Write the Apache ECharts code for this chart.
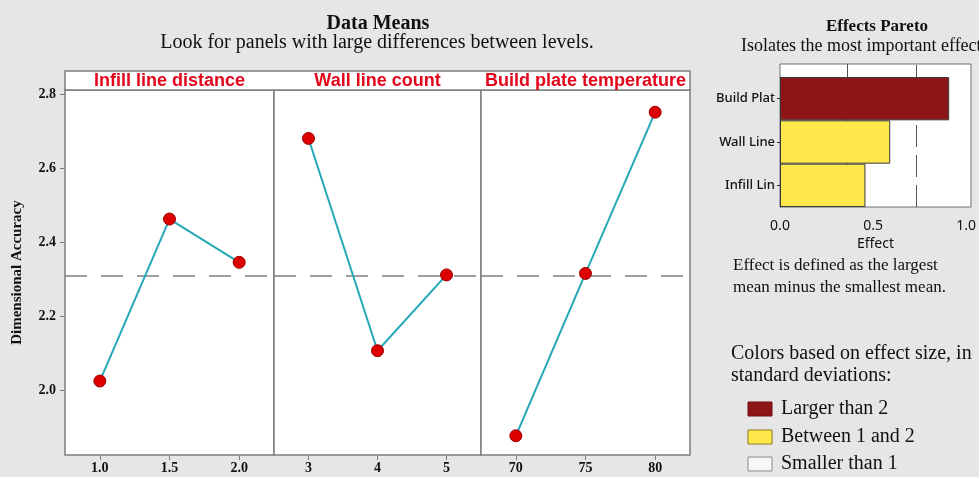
<!DOCTYPE html>
<html>
<head>
<meta charset="utf-8">
<script src="https://cdn.jsdelivr.net/npm/echarts@6/dist/echarts.min.js"></script>
<style>
html,body{margin:0;padding:0;background:#e6e6e6;}
#chart{width:979px;height:477px;}
</style>
</head>
<body>
<div id="chart"></div>
<script>
// ---- data ----
const FACTORS = ['Infill line distance', 'Wall line count', 'Build plate temperature'];
const LEVELS_INFILL = ['1.0', '1.5', '2.0'];
const LEVELS_WALL = ['3', '4', '5'];
const LEVELS_TEMP = ['70', '75', '80'];
const MEANS_INFILL = [2.024, 2.462, 2.345];
const MEANS_WALL = [2.680, 2.106, 2.311];
const MEANS_TEMP = [1.876, 2.315, 2.751];
const GRAND_MEAN = 2.313;
const Y_TICKS = [2.0, 2.2, 2.4, 2.6, 2.8];
const PARETO_CATS = ['Infill Lin', 'Wall Line', 'Build Plat'];
const PARETO_EFFECTS = [0.445, 0.574, 0.881];
const PARETO_TICKS = [0, 0.5, 1.0];
const SD_LINES = [0.363, 0.73]; // 1 SD (solid), 2 SD (dashed)
const LEGEND_LABELS = ['Larger than 2', 'Between 1 and 2', 'Smaller than 1'];

// ---- styles ----
const SERIF = '"Liberation Serif", "Times New Roman", serif';
const SANS = '"Liberation Sans", Arial, sans-serif';
const UISANS = '"Noto Sans", "Open Sans", sans-serif';
const FRAME = '#7d7d7d';
const DARKRED = '#8e1515';
const YELLOW = '#ffe94a';
const LEVELS = [LEVELS_INFILL, LEVELS_WALL, LEVELS_TEMP];
const MEANS = [MEANS_INFILL, MEANS_WALL, MEANS_TEMP];
const PANEL_LEFT = [65, 274, 481];
const PANEL_W = [209, 207, 209];
const Y_MIN = 1.824, Y_MAX = 2.811;

const chart = echarts.init(document.getElementById('chart'), null, {renderer: 'canvas'});

const grids = [], xAxes = [], yAxes = [], series = [];
for (let i = 0; i < 3; i++) {
  grids.push({left: PANEL_LEFT[i], top: 90, width: PANEL_W[i], height: 365, show: true,
    backgroundColor: '#ffffff', borderColor: FRAME, borderWidth: 1.5});
  xAxes.push({type: 'category', gridIndex: i, data: LEVELS[i], boundaryGap: true,
    axisLine: {show: false},
    axisTick: {show: true, alignWithLabel: true, length: 5, lineStyle: {color: FRAME}},
    axisLabel: {margin: 6, fontFamily: SERIF, fontWeight: 'bold', fontSize: 14, color: '#111'},
    splitLine: {show: false}});
  yAxes.push({type: 'value', gridIndex: i, min: Y_MIN, max: Y_MAX,
    name: i === 0 ? 'Dimensional Accuracy' : '', nameLocation: 'middle', nameGap: 40,
    nameTextStyle: {fontFamily: SERIF, fontWeight: 'bold', fontSize: 15, color: '#111'},
    axisLine: {show: false},
    axisTick: {show: i === 0, length: 5, customValues: Y_TICKS, lineStyle: {color: FRAME}},
    axisLabel: {show: i === 0, customValues: Y_TICKS, margin: 9, fontFamily: SERIF, fontWeight: 'bold',
      fontSize: 14, color: '#111', formatter: v => v.toFixed(1)},
    splitLine: {show: false}});
  series.push({type: 'line', xAxisIndex: i, yAxisIndex: i, data: MEANS[i],
    symbol: 'circle', symbolSize: 12,
    itemStyle: {color: '#dc0000', borderColor: '#9a0000', borderWidth: 1},
    lineStyle: {color: '#25a8b8', width: 2},
    z: 3,
    markLine: {silent: true, symbol: 'none', label: {show: false}, z: 2,
      lineStyle: {color: '#7f7f7f', width: 1.5, type: [22, 14]},
      data: [{yAxis: GRAND_MEAN}]}});
}

// Pareto background grid (frame + SD reference lines)
grids.push({left: 780, top: 64, width: 197, height: 143, show: true,
  backgroundColor: '#ffffff', borderColor: '#6f6f6f', borderWidth: 1});
xAxes.push({type: 'value', gridIndex: 3, min: 0, max: 1.026,
  name: 'Effect', nameLocation: 'middle', nameGap: 30,
  nameTextStyle: {fontFamily: UISANS, fontSize: 14, color: '#111'},
  axisLine: {show: false}, axisTick: {show: false},
  axisLabel: {customValues: PARETO_TICKS, margin: 12, fontFamily: UISANS, fontSize: 14, color: '#111',
    formatter: v => v.toFixed(1)},
  splitLine: {show: false}});
yAxes.push({type: 'value', gridIndex: 3, min: 0, max: 1, show: false});
series.push({type: 'line', xAxisIndex: 3, yAxisIndex: 3, data: [[0, 0], [1, 1]],
  symbol: 'none', lineStyle: {opacity: 0}, silent: true, z: 1,
  markLine: {silent: true, symbol: 'none', label: {show: false}, z: 1,
    data: [
      {xAxis: SD_LINES[0], lineStyle: {color: '#555', width: 1, type: 'solid'}},
      {xAxis: SD_LINES[1], lineStyle: {color: '#555', width: 1, type: [22, 8]}}
    ]}});

// Pareto bars grid
grids.push({left: 780, top: 77, width: 197, height: 130, show: false});
xAxes.push({type: 'value', gridIndex: 4, min: 0, max: 1.026, show: false});
yAxes.push({type: 'category', gridIndex: 4, data: PARETO_CATS,
  axisLine: {show: true, lineStyle: {color: '#2a2a5a'}},
  axisTick: {show: true, alignWithLabel: true, length: 3, lineStyle: {color: '#333'}},
  axisLabel: {margin: 5, fontFamily: UISANS, fontSize: 13, fontWeight: 500, color: '#111'}});
series.push({type: 'bar', xAxisIndex: 4, yAxisIndex: 4, barCategoryGap: '0%', z: 3,
  data: PARETO_EFFECTS.map(v => ({value: v,
    itemStyle: {color: v > SD_LINES[1] ? DARKRED : (v > SD_LINES[0] ? YELLOW : '#f4f4f4'),
      borderColor: '#3a3a3a', borderWidth: 1}}))});

// texts and legend
const txt = (text, x, y, font, align, fill) => ({type: 'text', x: x, y: y, silent: true,
  style: {text: text, font: font, textAlign: align || 'center', textVerticalAlign: 'middle', fill: fill || '#111'}});

const graphics = [
  txt('Data Means', 378, 24, 'bold 20px ' + SERIF),
  txt('Look for panels with large differences between levels.', 377, 43, '20px ' + SERIF),
  {type: 'rect', shape: {x: 65, y: 71, width: 625, height: 19}, silent: true,
   style: {fill: '#ffffff', stroke: FRAME, lineWidth: 1.5}},
  txt('Effects Pareto', 877, 27, 'bold 17px ' + SERIF),
  txt('Isolates the most important effects', 741, 46, '18px ' + SERIF, 'left'),
  txt('Effect is defined as the largest', 733, 266, '17px ' + SERIF, 'left'),
  txt('mean minus the smallest mean.', 733, 288, '17px ' + SERIF, 'left'),
  txt('Colors based on effect size, in', 731, 354, '20px ' + SERIF, 'left'),
  txt('standard deviations:', 731, 376, '20px ' + SERIF, 'left')
];
for (let i = 0; i < 3; i++) {
  graphics.push(txt(FACTORS[i], PANEL_LEFT[i] + PANEL_W[i] / 2, 81, 'bold 18px ' + SANS, 'center', '#e3061b'));
}
const legFill = [DARKRED, YELLOW, '#f6f6f6'];
const legStroke = ['#6a1010', '#8a7a20', '#8a8a8a'];
const legY = [409, 437, 464];
for (let i = 0; i < 3; i++) {
  graphics.push({type: 'rect', shape: {x: 748, y: legY[i] - 7, width: 24, height: 14}, silent: true,
    style: {fill: legFill[i], stroke: legStroke[i], lineWidth: 1}});
  graphics.push(txt(LEGEND_LABELS[i], 781, legY[i], '20px ' + SERIF, 'left'));
}

chart.setOption({
  backgroundColor: '#e6e6e6',
  animation: false,
  grid: grids,
  xAxis: xAxes,
  yAxis: yAxes,
  series: series,
  graphic: graphics
});
</script>
</body>
</html>
